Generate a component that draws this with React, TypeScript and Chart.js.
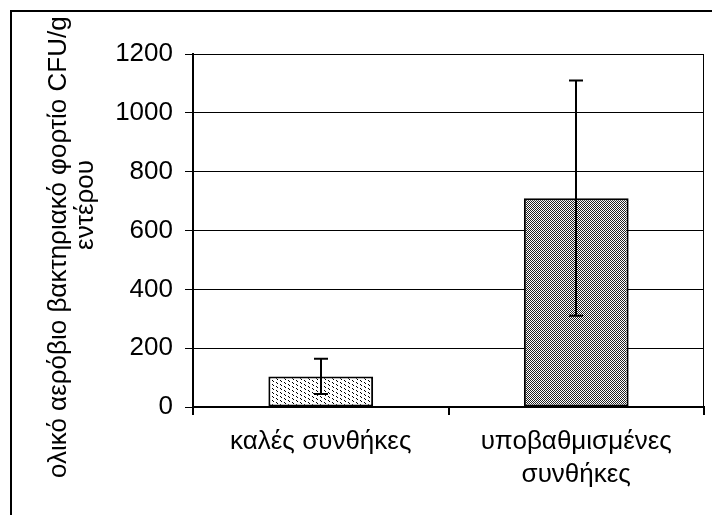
import React, { useEffect, useRef } from 'react';
import { Chart, registerables } from 'chart.js';

Chart.register(...registerables);

const categories: string[][] = [['καλές συνθήκες'], ['υποβαθμισμένες', 'συνθήκες']];
const values: number[] = [104, 710];
const errors: number[] = [60, 400];
const yMin = 0;
const yMax = 1200;
const yStep = 200;
const yTitle: string[] = ['ολικό αερόβιο βακτηριακό φορτίο CFU/g', 'εντέρου'];

const FONT = 'Arial, "Liberation Sans", sans-serif';
const FS = 26;

function makePattern(kind: 'dots' | 'dense'): CanvasPattern | string {
  const c = document.createElement('canvas');
  const ctx = c.getContext('2d');
  if (!ctx) return '#ccc';
  if (kind === 'dots') {
    c.width = 8;
    c.height = 4;
    ctx.fillStyle = '#fff';
    ctx.fillRect(0, 0, 8, 4);
    ctx.fillStyle = '#000';
    [[0, 0], [1, 1], [4, 2], [5, 3]].forEach(([x, y]) => ctx.fillRect(x, y, 1, 1));
  } else {
    c.width = 2;
    c.height = 2;
    ctx.fillStyle = '#fff';
    ctx.fillRect(0, 0, 2, 2);
    ctx.fillStyle = '#222';
    ctx.fillRect(0, 0, 1, 1);
    ctx.fillRect(1, 1, 1, 1);
  }
  return ctx.createPattern(c, 'repeat') || '#ccc';
}

const framePlugin = {
  id: 'frame',
  beforeDraw(chart: any) {
    const { ctx, width, height } = chart;
    ctx.save();
    ctx.fillStyle = '#fff';
    ctx.fillRect(0, 0, width, height);
    ctx.strokeStyle = '#000';
    ctx.lineWidth = 2;
    ctx.beginPath();
    ctx.moveTo(11, height + 5);
    ctx.lineTo(11, 11);
    ctx.lineTo(width + 5, 11);
    ctx.stroke();
    ctx.restore();
  },
  afterDraw(chart: any) {
    const { ctx, chartArea } = chart;
    ctx.save();
    ctx.strokeStyle = '#000';
    ctx.lineWidth = 1;
    ctx.beginPath();
    ctx.moveTo(chartArea.right - 0.5, chartArea.top);
    ctx.lineTo(chartArea.right - 0.5, chartArea.bottom);
    ctx.stroke();
    ctx.restore();
  },
};

const errorBarPlugin = {
  id: 'errorBars',
  afterDatasetsDraw(chart: any) {
    const { ctx } = chart;
    const meta = chart.getDatasetMeta(0);
    const y = chart.scales.y;
    ctx.save();
    ctx.strokeStyle = '#000';
    ctx.lineWidth = 2;
    meta.data.forEach((bar: any, i: number) => {
      const x = Math.round(bar.x);
      const top = y.getPixelForValue(values[i] + errors[i]);
      const bot = y.getPixelForValue(values[i] - errors[i]);
      ctx.beginPath();
      ctx.moveTo(x, top);
      ctx.lineTo(x, bot);
      ctx.moveTo(x - 7, top);
      ctx.lineTo(x + 7, top);
      ctx.moveTo(x - 7, bot);
      ctx.lineTo(x + 7, bot);
      ctx.stroke();
    });
    ctx.restore();
  },
};

const yTitlePlugin = {
  id: 'yTitle',
  afterDraw(chart: any) {
    const { ctx, width, height } = chart;
    ctx.save();
    ctx.beginPath();
    ctx.rect(13, 13, width, height);
    ctx.clip();
    ctx.font = `${FS}px ${FONT}`;
    ctx.fillStyle = '#000';
    ctx.textAlign = 'center';
    ctx.textBaseline = 'alphabetic';
    const l1 = ctx.measureText(yTitle[0]).width;
    const centers = [478 - l1 / 2, 205];
    const baselines = [66, 93];
    yTitle.forEach((line, i) => {
      ctx.save();
      ctx.translate(baselines[i], centers[i]);
      ctx.rotate(-Math.PI / 2);
      ctx.fillText(line, 0, 0);
      ctx.restore();
    });
    ctx.restore();
  },
};

export default function App() {
  const ref = useRef<HTMLCanvasElement | null>(null);

  useEffect(() => {
    if (!ref.current) return;
    const chart = new Chart(ref.current, {
      type: 'bar',
      data: {
        labels: categories as any,
        datasets: [
          {
            data: values,
            backgroundColor: [makePattern('dots'), makePattern('dense')] as any,
            borderColor: '#000',
            borderWidth: 2,
            borderSkipped: false,
            barPercentage: 0.41,
            categoryPercentage: 1,
          },
        ],
      },
      options: {
        responsive: false,
        animation: false,
        devicePixelRatio: 1,
        layout: { padding: { top: 54, right: 8, left: 0, bottom: 0 } },
        plugins: {
          legend: { display: false },
          tooltip: { enabled: false },
          title: { display: false },
        },
        scales: {
          x: {
            grid: {
              offset: true,
              drawOnChartArea: false,
              drawTicks: true,
              tickLength: 8,
              color: '#000',
              lineWidth: 2,
            },
            border: { display: true, color: '#000', width: 2 },
            ticks: {
              color: '#000',
              font: { family: FONT, size: FS, lineHeight: 1.27 },
              padding: 10,
              maxRotation: 0,
              autoSkip: false,
            },
            afterFit: (s: any) => {
              s.height = 108;
            },
          },
          y: {
            min: yMin,
            max: yMax,
            ticks: {
              stepSize: yStep,
              color: '#000',
              font: { family: FONT, size: FS },
              padding: 12,
              callback: (v: any) => String(v),
            },
            grid: { color: '#000', lineWidth: 1, tickLength: 8 },
            border: { display: true, color: '#000', width: 2 },
            afterFit: (s: any) => {
              s.width = 193;
            },
          },
        },
      },
      plugins: [framePlugin, errorBarPlugin, yTitlePlugin],
    });
    return () => chart.destroy();
  }, []);

  return (
    <canvas
      ref={ref}
      width={712}
      height={515}
      style={{ position: 'fixed', left: 0, top: 0, width: 712, height: 515 }}
    />
  );
}
